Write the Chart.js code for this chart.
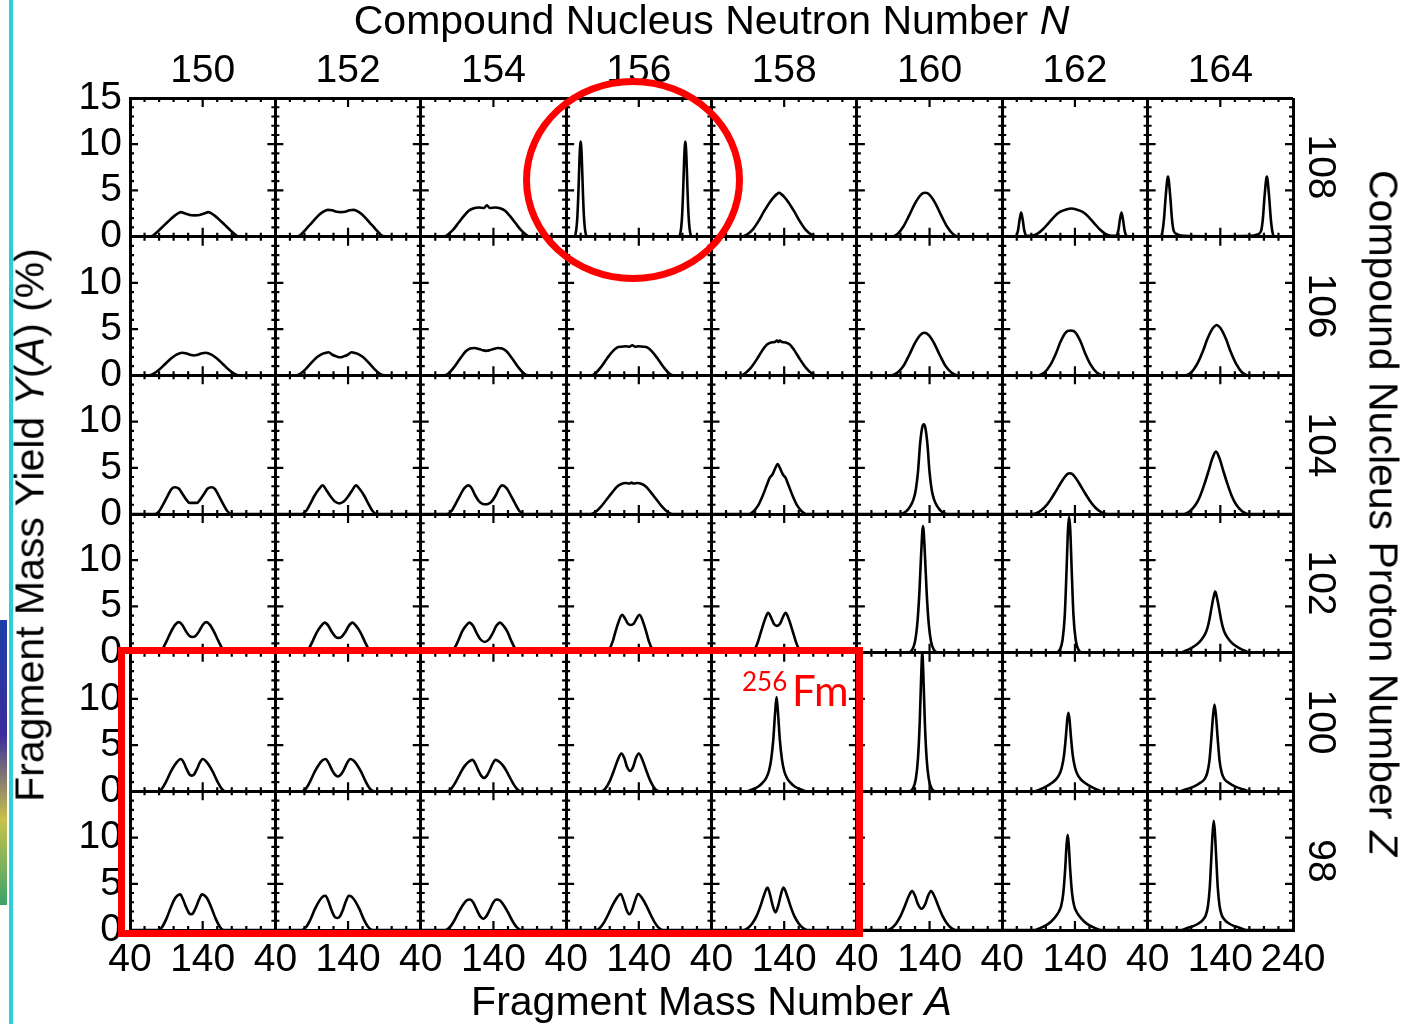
<!DOCTYPE html>
<html>
<head>
<meta charset="utf-8">
<script src="https://cdn.jsdelivr.net/npm/chart.js@4.4.1/dist/chart.umd.min.js"></script>
<style>
  body { margin: 0; background: #fff; }
  #wrap { position: relative; width: 1401px; height: 1024px; overflow: hidden; font-family: "Liberation Sans", Arial, sans-serif; }
  #ChartCanvas { position: absolute; left: 0; top: 0; }
  .lbl { position: absolute; white-space: nowrap; line-height: 1; color: #000; }
  .rot { transform: translate(-50%, -50%) rotate(90deg); }
  .rotl { transform: translate(-50%, -50%) rotate(-90deg); }
  .red { position: absolute; box-sizing: border-box; border: 7px solid #ff0000; }
</style>
</head>
<body>
<div id="wrap">
  <canvas id="ChartCanvas" width="1401" height="1024"></canvas>

  <div class="lbl" style="left:130px; width:1163px; top:0px; text-align:center; font-size:41px;">Compound Nucleus Neutron Number <i>N</i></div>
  <div class="lbl" style="left:130px; width:1163px; top:981px; text-align:center; font-size:41px;">Fragment Mass Number <i>A</i></div>
  <div class="lbl rotl" style="left:30px; top:525px; font-size:41px;">Fragment Mass Yield <i>Y</i>(<i>A</i>) (%)</div>
  <div class="lbl rot" style="left:1383px; top:513px; font-size:41px;">Compound Nucleus Proton Number <i>Z</i></div>
  <div id="zLabels"></div>

  <div class="red" style="left:523px; top:78px; width:220px; height:204px; border-radius:50%;"></div>
  <div class="red" style="left:118px; top:647px; width:745px; height:290px;"></div>
  <div class="lbl" style="left:742px; top:668px; font-size:26px; color:#ff0000; font-family:Lato, sans-serif;">256</div>
  <div class="lbl" style="left:792px; top:669px; font-size:42px; color:#ff0000; font-family:Lato, sans-serif;">Fm</div>

  <div style="position:absolute; left:9px; top:0; width:4px; height:1024px; background:#2ccfd8;"></div>
  <div style="position:absolute; left:0; top:620px; width:7px; height:285px; background:linear-gradient(#1b3fa8, #3b2c9c 40%, #c9c24a 70%, #3aa36a);"></div>
</div>
<script>
// column / row labels
var nValues = [150, 152, 154, 156, 158, 160, 162, 164];
var zValues = [108, 106, 104, 102, 100, 98];
var massTicks = ['40', '140', '240'];

// mass yield curves, [A, Y(%)] per panel, one array per Z row (N = 150 ... 164)
var yieldZ108 = [
    [[40,0],[66,0],[72,0.15],[80,0.7],[88,1.3],[96,1.9],[102,2.3],[110,2.65],[116,2.5],[122,2.35],[129,2.3],[136,2.35],[142,2.5],[148,2.65],[156,2.3],[162,1.9],[170,1.3],[178,0.7],[186,0.15],[192,0],[240,0]],
    [[40,0],[68,0],[74,0.15],[82,0.8],[90,1.5],[98,2.2],[104,2.6],[112,2.9],[118,2.85],[124,2.7],[130,2.65],[136,2.7],[142,2.85],[148,2.9],[156,2.6],[162,2.2],[170,1.5],[178,0.8],[186,0.15],[192,0],[240,0]],
    [[40,0],[70,0],[76,0.15],[84,0.7],[92,1.5],[100,2.3],[106,2.8],[112,3.05],[120,3.15],[127,3.1],[131,3.4],[135,3.1],[142,3.15],[150,3.05],[156,2.8],[162,2.3],[170,1.5],[178,0.7],[186,0.15],[192,0],[240,0]],
    [[40,0],[51,0],[53.5,0.5],[55.5,2.2],[57,5],[58.5,8.6],[60,10.3],[61.5,8.6],[63,5],[64.5,2.2],[66.5,0.5],[69,0.05],[195,0.05],[197.5,0.5],[199.5,2.2],[201,5],[202.5,8.6],[204,10.3],[205.5,8.6],[207,5],[208.5,2.2],[210.5,0.5],[213,0],[240,0]],
    [[40,0],[80,0],[88,0.2],[96,0.7],[104,1.6],[112,2.7],[120,3.7],[126,4.3],[130,4.6],[133,4.75],[136,4.6],[140,4.3],[146,3.7],[154,2.7],[162,1.6],[170,0.7],[178,0.2],[186,0],[240,0]],
    [[40,0],[88,0],[96,0.3],[104,1.1],[112,2.3],[120,3.6],[126,4.35],[131,4.7],[134,4.75],[137,4.7],[142,4.35],[148,3.6],[156,2.3],[164,1.1],[172,0.3],[180,0],[240,0]],
    [[40,0],[58,0],[61.5,0.6],[64,1.9],[66,2.6],[68,1.9],[70.5,0.6],[74,0.1],[80,0.1],[88,0.3],[96,0.8],[104,1.5],[112,2.2],[120,2.7],[128,2.95],[135,3.05],[142,2.95],[150,2.7],[158,2.2],[166,1.5],[174,0.8],[182,0.3],[190,0.1],[196,0.1],[199.5,0.6],[202,1.9],[204,2.6],[206,1.9],[208.5,0.6],[212,0],[240,0]],
    [[40,0],[57,0],[60,0.4],[62.5,1.9],[65,4.5],[68,6.5],[71,4.5],[73.5,1.9],[76,0.6],[81,0.25],[90,0.1],[130,0.05],[182,0.1],[191,0.25],[196,0.6],[198.5,1.9],[201,4.5],[204,6.5],[207,4.5],[209.5,1.9],[212,0.4],[215,0],[240,0]]
];
var yieldZ106 = [
    [[40,0],[66,0],[72,0.15],[80,0.6],[88,1.2],[96,1.8],[104,2.25],[112,2.45],[118,2.35],[124,2.2],[128,2.15],[132,2.2],[138,2.35],[144,2.45],[152,2.25],[160,1.8],[168,1.2],[176,0.6],[184,0.15],[190,0],[240,0]],
    [[40,0],[68,0],[74,0.15],[82,0.7],[90,1.4],[98,2.0],[104,2.3],[108,2.4],[113,2.5],[119,2.2],[124,2.05],[129,1.95],[134,2.05],[139,2.2],[145,2.5],[150,2.4],[154,2.3],[160,2.0],[168,1.4],[176,0.7],[184,0.15],[190,0],[240,0]],
    [[40,0],[72,0],[78,0.2],[86,0.9],[94,1.8],[102,2.6],[108,2.9],[114,2.95],[120,2.85],[126,2.7],[130,2.65],[134,2.7],[140,2.85],[146,2.95],[152,2.9],[158,2.6],[166,1.8],[174,0.9],[182,0.2],[188,0],[240,0]],
    [[40,0],[74,0],[80,0.2],[88,0.9],[96,1.8],[104,2.6],[110,3.0],[116,3.1],[122,3.15],[127,3.1],[131,3.25],[135,3.1],[140,3.15],[146,3.1],[152,3.0],[158,2.6],[166,1.8],[174,0.9],[182,0.2],[188,0],[240,0]],
    [[40,0],[80,0],[86,0.2],[94,0.8],[102,1.7],[110,2.7],[116,3.3],[122,3.55],[127,3.6],[130,3.75],[132,3.6],[134,3.75],[137,3.6],[142,3.55],[148,3.3],[154,2.7],[162,1.7],[170,0.8],[178,0.2],[184,0],[240,0]],
    [[40,0],[88,0],[96,0.3],[104,1.0],[112,2.2],[120,3.5],[126,4.25],[130,4.55],[133,4.6],[136,4.55],[140,4.25],[146,3.5],[154,2.2],[162,1.0],[170,0.3],[178,0],[240,0]],
    [[40,0],[90,0],[98,0.3],[106,1.1],[114,2.4],[120,3.6],[126,4.5],[130,4.8],[134,4.85],[138,4.8],[142,4.5],[148,3.6],[154,2.4],[162,1.1],[170,0.3],[178,0],[240,0]],
    [[40,0],[92,0],[100,0.3],[108,1.2],[116,2.6],[122,3.9],[128,4.9],[132,5.3],[135,5.45],[138,5.3],[142,4.9],[148,3.9],[154,2.6],[162,1.2],[170,0.3],[178,0],[240,0]]
];
var yieldZ104 = [
    [[40,0],[74,0],[80,0.3],[86,1.1],[92,2.0],[97,2.7],[102,2.9],[107,2.75],[112,2.2],[118,1.5],[122,1.2],[127,1.2],[132,1.2],[136,1.5],[142,2.2],[147,2.75],[152,2.9],[157,2.7],[162,2.0],[168,1.1],[174,0.3],[180,0],[240,0]],
    [[40,0],[76,0],[82,0.3],[88,1.1],[94,2.0],[100,2.7],[105,3.1],[110,2.6],[116,1.9],[122,1.35],[128,1.15],[134,1.35],[140,1.9],[146,2.6],[151,3.1],[156,2.7],[162,2.0],[168,1.1],[174,0.3],[180,0],[240,0]],
    [[40,0],[76,0],[82,0.3],[88,1.1],[94,2.0],[100,2.8],[106,3.1],[110,2.8],[115,2.0],[120,1.4],[125,1.1],[129,1.05],[133,1.1],[138,1.4],[143,2.0],[148,2.8],[152,3.1],[158,2.8],[164,2.0],[170,1.1],[176,0.3],[182,0],[240,0]],
    [[40,0],[74,0],[80,0.2],[88,0.8],[96,1.6],[104,2.4],[110,2.95],[116,3.25],[122,3.35],[127,3.3],[130,3.4],[133,3.3],[138,3.35],[144,3.25],[150,2.95],[156,2.4],[164,1.6],[172,0.8],[180,0.2],[186,0],[240,0]],
    [[40,0],[92,0],[98,0.3],[104,0.9],[110,1.9],[116,3.1],[120,3.9],[124,4.3],[128,5.0],[131,5.4],[134,5.0],[138,4.3],[142,3.9],[146,3.1],[152,1.9],[158,0.9],[164,0.3],[170,0],[240,0]],
    [[40,0],[100,0],[108,0.3],[114,0.9],[118,1.6],[121,2.6],[124,4.5],[127,7.6],[130,9.4],[132,9.7],[134,9.4],[137,7.6],[140,4.5],[143,2.6],[146,1.6],[150,0.9],[156,0.3],[164,0],[240,0]],
    [[40,0],[82,0],[90,0.2],[98,0.7],[106,1.5],[114,2.5],[120,3.3],[126,4.0],[130,4.35],[133,4.4],[136,4.35],[140,4.0],[146,3.3],[152,2.5],[160,1.5],[168,0.7],[176,0.2],[184,0],[240,0]],
    [[40,0],[90,0],[98,0.3],[106,1.0],[112,1.9],[118,3.2],[124,4.7],[129,6.0],[134,6.75],[139,6.0],[144,4.7],[150,3.2],[156,1.9],[162,1.0],[170,0.3],[178,0],[240,0]]
];
var yieldZ102 = [
    [[40,0],[79,0],[84,0.3],[90,1.2],[96,2.2],[102,3.0],[107,3.3],[112,3.0],[117,2.3],[122,1.8],[126,1.7],[130,1.8],[135,2.3],[140,3.0],[145,3.3],[150,3.0],[156,2.2],[162,1.2],[168,0.3],[173,0],[240,0]],
    [[40,0],[80,0],[85,0.3],[91,1.2],[97,2.2],[103,2.9],[108,3.25],[113,2.9],[118,2.2],[123,1.7],[127,1.6],[131,1.7],[136,2.2],[141,2.9],[146,3.25],[151,2.9],[157,2.2],[163,1.2],[169,0.3],[174,0],[240,0]],
    [[40,0],[80,0],[85,0.3],[91,1.2],[97,2.3],[102,2.9],[107,3.25],[112,2.9],[117,2.1],[122,1.45],[128,1.15],[134,1.45],[139,2.1],[144,2.9],[149,3.25],[154,2.9],[159,2.3],[165,1.2],[171,0.3],[176,0],[240,0]],
    [[40,0],[94,0],[99,0.3],[104,1.2],[108,2.3],[112,3.3],[117,4.1],[121,3.7],[125,3.15],[129,3.0],[133,3.15],[137,3.7],[141,4.1],[146,3.3],[150,2.3],[154,1.2],[159,0.3],[164,0],[240,0]],
    [[40,0],[94,0],[99,0.3],[104,1.2],[109,2.5],[114,3.7],[118,4.3],[122,3.8],[126,3.1],[130,2.9],[134,3.1],[138,3.8],[142,4.3],[146,3.7],[151,2.5],[156,1.2],[161,0.3],[166,0],[240,0]],
    [[40,0],[110,0],[116,0.3],[120,1.2],[123,3.0],[126,6.5],[128.5,10.8],[131,13.7],[133.5,10.8],[136,6.5],[139,3.0],[142,1.2],[146,0.3],[152,0],[240,0]],
    [[40,0],[114,0],[119,0.3],[123,1.4],[126,4.0],[128.5,9.0],[130.5,13.4],[132,14.7],[133.5,13.4],[135.5,9.0],[138,4.0],[141,1.4],[145,0.3],[150,0],[240,0]],
    [[40,0],[84,0],[92,0.2],[100,0.5],[108,0.9],[114,1.4],[119,2.0],[122,2.6],[125,3.6],[128,4.9],[131,6.1],[133,6.6],[135,6.1],[138,4.9],[141,3.6],[144,2.6],[147,2.0],[152,1.4],[158,0.9],[166,0.5],[174,0.2],[182,0],[240,0]]
];
var yieldZ100 = [
    [[40,0],[79,0],[84,0.3],[90,1.1],[96,2.1],[102,2.9],[106,3.3],[110,3.5],[114,3.1],[118,2.4],[122,1.8],[125,1.7],[128,1.8],[132,2.4],[136,3.1],[140,3.5],[144,3.3],[148,2.9],[154,2.1],[160,1.1],[166,0.3],[171,0],[240,0]],
    [[40,0],[76,0],[82,0.3],[88,1.1],[94,2.1],[100,2.9],[105,3.35],[109,3.5],[113,3.1],[118,2.3],[122,1.8],[126,1.6],[130,1.8],[134,2.3],[139,3.1],[143,3.5],[147,3.35],[152,2.9],[158,2.1],[164,1.1],[170,0.3],[176,0],[240,0]],
    [[40,0],[76,0],[82,0.3],[88,1.0],[94,1.9],[100,2.7],[106,3.2],[111,3.4],[115,3.0],[119,2.3],[123,1.7],[127,1.45],[131,1.7],[135,2.3],[139,3.0],[143,3.4],[148,3.2],[154,2.7],[160,1.9],[166,1.0],[172,0.3],[178,0],[240,0]],
    [[40,0],[88,0],[94,0.3],[100,1.1],[106,2.3],[111,3.4],[116,4.1],[120,3.6],[124,2.6],[128,2.2],[132,2.6],[136,3.6],[140,4.1],[145,3.4],[150,2.3],[156,1.1],[162,0.3],[168,0],[240,0]],
    [[40,0],[88,0],[96,0.2],[104,0.5],[110,0.9],[115,1.4],[119,2.2],[122,3.4],[125,5.6],[127.5,8.5],[129.5,10.2],[131.5,8.5],[134,5.6],[137,3.4],[140,2.2],[144,1.4],[149,0.9],[155,0.5],[163,0.2],[171,0],[240,0]],
    [[40,0],[112,0],[117,0.3],[121,1.3],[124,3.5],[126.5,7.5],[128.5,12.5],[130,15],[131.5,12.5],[133.5,7.5],[136,3.5],[139,1.3],[143,0.3],[148,0],[240,0]],
    [[40,0],[84,0],[92,0.2],[100,0.5],[108,0.9],[114,1.3],[119,1.9],[122,2.6],[125,3.9],[127.5,5.9],[129.5,7.8],[131,8.5],[132.5,7.8],[134.5,5.9],[137,3.9],[140,2.6],[143,1.9],[148,1.3],[154,0.9],[162,0.5],[170,0.2],[178,0],[240,0]],
    [[40,0],[84,0],[92,0.2],[100,0.4],[108,0.7],[114,1.0],[119,1.4],[122,2.0],[125,3.3],[127.5,5.6],[130,8.2],[132,9.4],[134,8.2],[136.5,5.6],[139,3.3],[142,2.0],[145,1.4],[150,1.0],[156,0.7],[164,0.4],[172,0.2],[180,0],[240,0]]
];
var yieldZ98 = [
    [[40,0],[79,0],[84,0.3],[90,1.2],[96,2.4],[101,3.3],[105,3.7],[109,3.85],[113,3.3],[117,2.5],[121,1.85],[124,1.7],[127,1.85],[131,2.5],[135,3.3],[139,3.85],[143,3.7],[147,3.3],[152,2.4],[158,1.2],[164,0.3],[169,0],[240,0]],
    [[40,0],[76,0],[82,0.3],[88,1.1],[94,2.2],[100,3.1],[105,3.6],[109,3.7],[113,3.1],[117,2.2],[121,1.5],[125,1.3],[129,1.5],[133,2.2],[137,3.1],[141,3.7],[145,3.6],[150,3.1],[156,2.2],[162,1.1],[168,0.3],[174,0],[240,0]],
    [[40,0],[74,0],[80,0.3],[86,1.0],[92,1.9],[98,2.7],[103,3.2],[108,3.3],[112,3.0],[117,2.2],[122,1.45],[126,1.2],[130,1.45],[135,2.2],[140,3.0],[144,3.3],[149,3.2],[154,2.7],[160,1.9],[166,1.0],[172,0.3],[178,0],[240,0]],
    [[40,0],[80,0],[86,0.2],[92,0.8],[98,1.7],[104,2.7],[110,3.5],[115,3.9],[119,3.2],[123,2.2],[127,1.7],[131,2.2],[135,3.2],[139,3.9],[144,3.5],[150,2.7],[156,1.7],[162,0.8],[168,0.2],[174,0],[240,0]],
    [[40,0],[84,0],[90,0.2],[96,0.7],[102,1.5],[107,2.5],[112,3.7],[117,4.6],[120,4.0],[124,2.7],[128,1.9],[132,2.7],[136,4.0],[139,4.6],[144,3.7],[149,2.5],[154,1.5],[160,0.7],[166,0.2],[172,0],[240,0]],
    [[40,0],[82,0],[88,0.2],[94,0.7],[100,1.5],[106,2.6],[111,3.6],[116,4.2],[120,3.7],[124,2.8],[129,2.3],[134,2.8],[138,3.7],[142,4.2],[147,3.6],[152,2.6],[158,1.5],[164,0.7],[170,0.2],[176,0],[240,0]],
    [[40,0],[84,0],[92,0.2],[100,0.5],[107,0.9],[113,1.4],[118,2.0],[121,2.6],[124,4.0],[126.5,6.5],[128.5,9.2],[130,10.3],[131.5,9.2],[133.5,6.5],[136,4.0],[139,2.6],[142,2.0],[147,1.4],[153,0.9],[160,0.5],[168,0.2],[176,0],[240,0]],
    [[40,0],[86,0],[94,0.2],[102,0.4],[110,0.7],[116,1.1],[120,1.6],[123,2.6],[125.5,4.6],[127.5,7.6],[129.5,10.6],[131,11.8],[132.5,10.6],[134.5,7.6],[136.5,4.6],[139,2.6],[142,1.6],[146,1.1],[152,0.7],[160,0.4],[168,0.2],[176,0],[240,0]]
];

var yieldRows = [yieldZ108, yieldZ106, yieldZ104, yieldZ102, yieldZ100, yieldZ98];

// each panel is 200 mass units wide and 15 % high in the shared scales
var panelW = 200;
var panelH = 15;
var nRows = zValues.length;

function buildDatasets() {
    var sets = [];
    yieldRows.forEach(function (row, r) {
        row.forEach(function (curve, c) {
            sets.push({
                data: curve.map(p => ({ x: c * panelW + p[0] - 40, y: (nRows - 1 - r) * panelH + p[1] })),
                borderColor: '#000',
                borderWidth: 2.6,
                pointRadius: 0,
                fill: false,
                cubicInterpolationMode: 'monotone'
            });
        });
    });
    return sets;
}

// small inward ticks on all four sides of every panel
var panelTicks = {
    id: 'panelTicks',
    beforeDatasetsDraw(chart) {
        var ctx = chart.ctx;
        var x = chart.scales.x, y = chart.scales.y;
        ctx.save();
        ctx.strokeStyle = '#000';
        ctx.lineWidth = 2.2;
        ctx.beginPath();
        for (var c = 0; c < nValues.length; c++) {
            var xl = x.getPixelForValue(c * panelW), xr = x.getPixelForValue(c * panelW + panelW);
            for (var r = 0; r < nRows; r++) {
                var base = (nRows - 1 - r) * panelH;
                var yb = y.getPixelForValue(base), yt = y.getPixelForValue(base + panelH);
                for (var v = 1; v < panelH; v++) {
                    var py = y.getPixelForValue(base + v);
                    var len = v % 5 === 0 ? 8 : 4;
                    ctx.moveTo(xl, py); ctx.lineTo(xl + len, py);
                    ctx.moveTo(xr, py); ctx.lineTo(xr - len, py);
                }
                for (var a = 60; a < 240; a += 20) {
                    var px = x.getPixelForValue(c * panelW + a - 40);
                    var l2 = a === 140 ? 9 : 4;
                    ctx.moveTo(px, yb); ctx.lineTo(px, yb - l2);
                    ctx.moveTo(px, yt); ctx.lineTo(px, yt + l2);
                }
            }
        }
        ctx.stroke();
        ctx.restore();
    }
};

var tickFont = { family: '"Liberation Sans", Arial, sans-serif', size: 39 };

var config = {
    type: 'line',
    data: { datasets: buildDatasets() },
    options: {
        responsive: false,
        animation: false,
        layout: { padding: { left: 0, right: 108, top: 0, bottom: 0 } },
        plugins: { legend: { display: false }, tooltip: { enabled: false } },
        scales: {
            x: {
                type: 'linear',
                position: 'bottom',
                min: 0,
                max: nValues.length * panelW,
                afterFit: function (s) { s.height = 94; },
                grid: {
                    drawTicks: false,
                    lineWidth: 3,
                    color: ctx => (ctx.tick && ctx.tick.value % panelW === 0) ? '#000' : 'rgba(0,0,0,0)'
                },
                border: { color: '#000', width: 3 },
                ticks: {
                    stepSize: 100,
                    autoSkip: false,
                    maxRotation: 0,
                    padding: 7,
                    color: '#000',
                    font: tickFont,
                    callback: function (v) {
                        if (v === nValues.length * panelW) return massTicks[2];
                        return v % panelW === 0 ? massTicks[0] : massTicks[1];
                    }
                }
            },
            xTop: {
                type: 'linear',
                position: 'top',
                min: 0,
                max: nValues.length * panelW,
                afterFit: function (s) { s.height = 98; },
                afterBuildTicks: function (s) {
                    s.ticks = nValues.map((n, i) => ({ value: i * panelW + panelW / 2 }));
                },
                grid: { display: false, drawTicks: false },
                border: { display: false },
                ticks: {
                    autoSkip: false,
                    maxRotation: 0,
                    padding: 3,
                    color: '#000',
                    font: tickFont,
                    callback: function (v, i) { return String(nValues[i]); }
                }
            },
            y: {
                type: 'linear',
                position: 'left',
                min: 0,
                max: nRows * panelH,
                afterFit: function (s) { s.width = 130; },
                grid: {
                    drawTicks: false,
                    lineWidth: 3,
                    color: ctx => (ctx.tick && ctx.tick.value % panelH === 0) ? '#000' : 'rgba(0,0,0,0)'
                },
                border: { color: '#000', width: 3 },
                ticks: {
                    stepSize: 5,
                    autoSkip: false,
                    padding: 8,
                    color: '#000',
                    font: tickFont,
                    callback: function (v) {
                        if (v === nRows * panelH) return String(panelH);
                        return String(v % panelH);
                    }
                }
            }
        }
    },
    plugins: [panelTicks]
};

var chart = new Chart(document.getElementById('ChartCanvas').getContext('2d'), config);

// rotated Z labels on the right, centred on each row
var zBox = document.getElementById('zLabels');
zValues.forEach(function (z, r) {
    var yc = chart.scales.y.getPixelForValue((nRows - 1 - r) * panelH + panelH / 2);
    var d = document.createElement('div');
    d.className = 'lbl rot';
    d.style.left = '1322px';
    d.style.top = yc + 'px';
    d.style.fontSize = '39px';
    d.textContent = z;
    zBox.appendChild(d);
});
</script>
</body>
</html>
